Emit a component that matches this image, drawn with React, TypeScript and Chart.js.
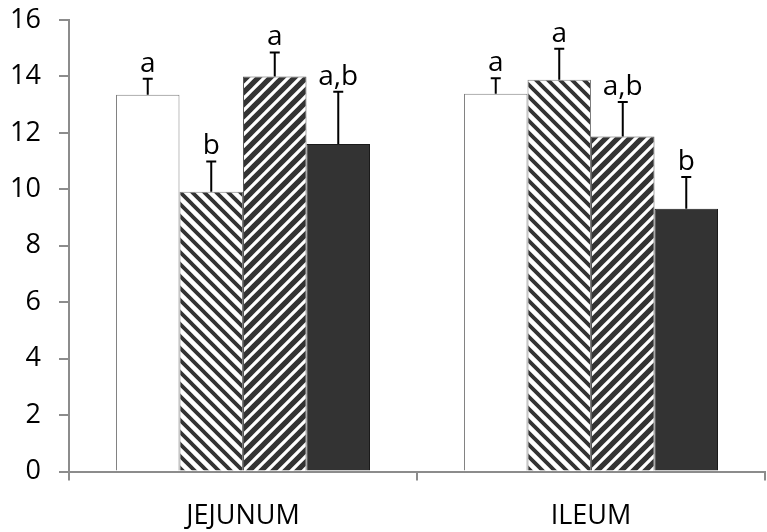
import React, { useEffect, useRef } from "react";
import { Chart, registerables } from "chart.js";

Chart.register(...registerables);

const categories = ["JEJUNUM", "ILEUM"];
const seriesWhite = [13.35, 13.39];
const seriesBack = [9.91, 13.88];
const seriesFwd = [14.0, 11.87];
const seriesDark = [11.61, 9.31];
const errWhite = [0.57, 0.55];
const errBack = [1.08, 1.1];
const errFwd = [0.85, 1.22];
const errDark = [1.85, 1.13];
const lettersWhite = ["a", "a"];
const lettersBack = ["b", "a"];
const lettersFwd = ["a", "a,b"];
const lettersDark = ["a,b", "b"];
const yTicks = [0, 2, 4, 6, 8, 10, 12, 14, 16];

const FONT = "'Open Sans', sans-serif";

function makePattern(dir: "back" | "fwd", lw: number): CanvasPattern | string {
  const s = 12;
  const c = document.createElement("canvas");
  c.width = s;
  c.height = s;
  const ctx = c.getContext("2d");
  if (!ctx) return "#333";
  ctx.fillStyle = "#ffffff";
  ctx.fillRect(0, 0, s, s);
  ctx.strokeStyle = "#333333";
  ctx.lineWidth = lw;
  ctx.beginPath();
  if (dir === "fwd") {
    for (const k of [0, s, 2 * s]) {
      // lines x + y = k
      ctx.moveTo(k + 2, -2);
      ctx.lineTo(k - s - 2, s + 2);
    }
  } else {
    for (const k of [-s, 0, s]) {
      // lines x - y = k
      ctx.moveTo(k - 2, -2);
      ctx.lineTo(k + s + 2, s + 2);
    }
  }
  ctx.stroke();
  const p = ctx.createPattern(c, "repeat");
  return p || "#333";
}

const errorBarPlugin = {
  id: "errorBars",
  afterDatasetsDraw(chart: any) {
    const ctx = chart.ctx;
    const yScale = chart.scales.y;
    chart.data.datasets.forEach((ds: any, i: number) => {
      const meta = chart.getDatasetMeta(i);
      meta.data.forEach((el: any, j: number) => {
        const v = ds.data[j];
        const e = ds.errors[j];
        const yTop = yScale.getPixelForValue(v + e);
        const x = el.x;
        ctx.save();
        ctx.strokeStyle = "#000";
        ctx.lineWidth = 2;
        ctx.beginPath();
        ctx.moveTo(x, el.y);
        ctx.lineTo(x, yTop);
        ctx.moveTo(x - 5, yTop);
        ctx.lineTo(x + 5, yTop);
        ctx.stroke();
        ctx.fillStyle = "#000";
        ctx.font = `28px ${FONT}`;
        ctx.textAlign = "center";
        ctx.textBaseline = "alphabetic";
        ctx.fillText(ds.letters[j], x, yTop - 7);
        ctx.restore();
      });
    });
  },
};

export default function App() {
  const ref = useRef<HTMLCanvasElement | null>(null);
  useEffect(() => {
    document.body.style.margin = "0";
    if (!ref.current) return;
    const chart = new Chart(ref.current, {
      type: "bar",
      data: {
        labels: categories,
        datasets: [
          { data: seriesWhite, errors: errWhite, letters: lettersWhite, backgroundColor: "#ffffff", borderColor: "#7f7f7f", borderWidth: 1 } as any,
          { data: seriesBack, errors: errBack, letters: lettersBack, backgroundColor: makePattern("back", 3.8), borderColor: "#7f7f7f", borderWidth: 1 } as any,
          { data: seriesFwd, errors: errFwd, letters: lettersFwd, backgroundColor: makePattern("fwd", 5.2), borderColor: "#595959", borderWidth: 1 } as any,
          { data: seriesDark, errors: errDark, letters: lettersDark, backgroundColor: "#333333", borderColor: "#1a1a1a", borderWidth: 1 } as any,
        ],
      },
      options: {
        animation: false,
        responsive: false,
        maintainAspectRatio: false,
        layout: { padding: { top: 20, right: 2, left: 0, bottom: 0 } },
        plugins: { legend: { display: false }, tooltip: { enabled: false } },
        datasets: { bar: { categoryPercentage: 0.73, barPercentage: 1 } },
        scales: {
          x: {
            offset: true,
            grid: { display: true, offset: true, drawOnChartArea: false, drawTicks: true, tickLength: 9, color: "#8c8c8c", lineWidth: 2 },
            border: { display: true, color: "#8c8c8c", width: 2 },
            ticks: { color: "#000", font: { family: FONT, size: 27 }, padding: 20 },
            afterFit: (s: any) => { s.height = 60.5; s.paddingLeft = 0; s.paddingRight = 0; },
          },
          y: {
            min: 0,
            max: 16,
            afterBuildTicks: (s: any) => { s.ticks = yTicks.map((v) => ({ value: v })); },
            grid: { display: true, drawOnChartArea: false, drawTicks: true, tickLength: 10, color: "#8c8c8c", lineWidth: 2 },
            border: { display: true, color: "#8c8c8c", width: 2 },
            ticks: { color: "#000", font: { family: FONT, size: 27 }, padding: 18 },
            afterFit: (s: any) => { s.width = 69; s.paddingTop = 0; s.paddingBottom = 0; },
          },
        },
      } as any,
      plugins: [errorBarPlugin],
    });
    return () => chart.destroy();
  }, []);
  return (
    <div style={{ position: "absolute", left: 0, top: 0, width: 767, height: 532 }}>
      <canvas ref={ref} width={767} height={532} style={{ width: 767, height: 532 }} />
    </div>
  );
}
